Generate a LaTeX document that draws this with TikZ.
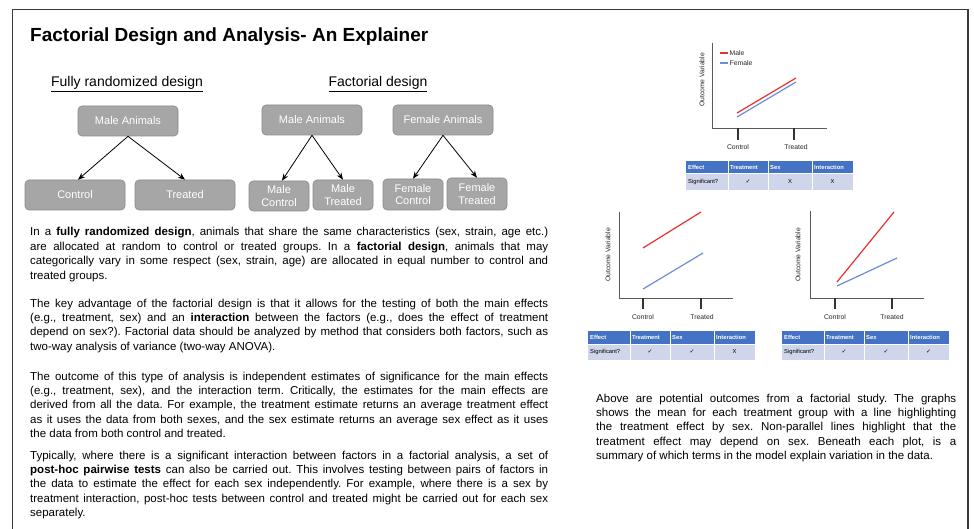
\documentclass[tikz,border=0pt]{standalone}
\usepackage{fontspec}
\setmainfont{Liberation Sans}
\newfontfamily\symfont{DejaVu Sans}
\usetikzlibrary{arrows.meta}
\frenchspacing

\definecolor{boxfill}{HTML}{A6A6A6}
\definecolor{boxline}{HTML}{8A8A8A}
\definecolor{hdrblue}{HTML}{4472C4}
\definecolor{rowblue}{HTML}{CFD5EA}
\definecolor{malered}{HTML}{E8302E}
\definecolor{femblue}{HTML}{6A8ED8}
\definecolor{framegray}{HTML}{3A3A3A}
\definecolor{axisgray}{HTML}{595959}

% one justified line of a fixed width
\newcommand\jl[2][518pt]{\makebox[#1][s]{#2}}

% summary table of significant terms: name, x, y, three results
\newcommand\restable[6]{%
  \begin{scope}[shift={(#2,#3)}]
    \fill[hdrblue] (0,0) rectangle (167,13);
    \fill[rowblue] (0,13) rectangle (167,29);
    \draw[white, line width=1pt] (42,0) -- (42,29) (82,0) -- (82,29)
      (126,0) -- (126,29) (0,13) -- (167,13);
    \node[hdr] (#1-h1) at (2,6.5) {Effect};
    \node[hdr] (#1-h2) at (44,6.5) {Treatment};
    \node[hdr] (#1-h3) at (84,6.5) {Sex};
    \node[hdr] (#1-h4) at (128,6.5) {Interaction};
    \node[rowtxt, anchor=west] (#1-r1) at (2,21) {Significant?};
    \node[rowtxt] (#1-r2) at (62,20.5) {#4};
    \node[rowtxt] (#1-r3) at (104,20.5) {#5};
    \node[rowtxt] (#1-r4) at (146.5,20.5) {#6};
  \end{scope}}
\newcommand\yes{{\symfont ✓}}

\begin{document}
\begin{tikzpicture}[x=1pt, y=-1pt,
  gbox/.style={draw=boxline, fill=boxfill, rounded corners=4pt, text=white,
    font=\fontsize{11}{12.5}\selectfont, align=center, inner sep=1pt,
    line width=0.6pt},
  flow/.style={-{Stealth[length=7pt,width=5.5pt]}, line width=0.8pt},
  % anchored at the baseline of the last line
  para/.style={anchor=base west, align=left, inner sep=0pt,
    font=\fontsize{11.5}{14.4}\selectfont},
  hdr/.style={anchor=west, text=white, inner sep=0pt,
    font=\fontsize{5.8}{7}\selectfont\bfseries},
  rowtxt/.style={inner sep=0pt, font=\fontsize{5.8}{7}\selectfont},
  axlbl/.style={inner sep=0pt, text=black!85, font=\fontsize{6.8}{8}\selectfont},
  axis/.style={axisgray, line width=0.9pt},
  tickmark/.style={black!80, line width=1.8pt},
  maleline/.style={malered, line width=1.2pt},
  femline/.style={femblue, line width=1.2pt}]

\useasboundingbox (0,0) rectangle (974,529);
\fill[white] (0,0) rectangle (974,529);

% page frame, open at the bottom
\draw[framegray, line width=1.5pt] (12.5,529) -- (12.5,9.5) -- (968,9.5) -- (968,529);

% title and headings
\node[anchor=base west, inner sep=0pt, font=\fontsize{19}{23}\selectfont\bfseries]
  (title) at (30,42) {Factorial Design and Analysis- An Explainer};
\node[anchor=base, inner sep=0pt, font=\fontsize{14}{16}\selectfont]
  (frhead) at (127,87) {\underline{Fully randomized design}};
\node[anchor=base, inner sep=0pt, font=\fontsize{14}{16}\selectfont]
  (fachead) at (378,87) {\underline{Factorial design}};

% fully randomized design
\node[gbox, minimum width=100pt, minimum height=30pt] (frm) at (128,121) {Male Animals};
\node[gbox, minimum width=100pt, minimum height=30pt] (frc) at (75,195) {Control};
\node[gbox, minimum width=100pt, minimum height=30pt] (frt) at (185,195) {Treated};
\draw[flow] (frm.south) -- ([xshift=3pt]frc.north);
\draw[flow] (frm.south) -- (frt.north);

% factorial design
\node[gbox, minimum width=100pt, minimum height=30pt] (fm) at (312,120) {Male Animals};
\node[gbox, minimum width=60pt, minimum height=30pt] (fmc) at (279,196) {Male\\Control};
\node[gbox, minimum width=60pt, minimum height=30pt] (fmt) at (343,195) {Male\\Treated};
\node[gbox, minimum width=100pt, minimum height=30pt] (ff) at (443,120) {Female Animals};
\node[gbox, minimum width=60pt, minimum height=31pt] (ffc) at (413,194.5) {Female\\Control};
\node[gbox, minimum width=60pt, minimum height=32pt] (fft) at (477,194) {Female\\Treated};
\draw[flow] (fm.south) -- ([xshift=3pt]fmc.north);
\draw[flow] (fm.south) -- (fmt.north);
\draw[flow] (ff.south) -- (ffc.north);
\draw[flow] (ff.south) -- (fft.north);

% explanatory text
\node[para] (p1) at (30,279.2) {%
\jl{In a \textbf{fully randomized design}, animals that share the same characteristics (sex, strain, age etc.)}\\
\jl{are allocated at random to control or treated groups. In a \textbf{factorial design}, animals that may}\\
\jl{categorically vary in some respect (sex, strain, age) are allocated in equal number to control and}\\
treated groups.};
\node[para] (p2) at (30,350.2) {%
\jl{The key advantage of the factorial design is that it allows for the testing of both the main effects}\\
\jl{(e.g., treatment, sex) and an \textbf{interaction} between the factors (e.g., does the effect of treatment}\\
\jl{depend on sex?). Factorial data should be analyzed by method that considers both factors, such as}\\
two-way analysis of variance (two-way ANOVA).};
\node[para] (p3) at (30,437.6) {%
\jl{The outcome of this type of analysis is independent estimates of significance for the main effects}\\
\jl{(e.g., treatment, sex), and the interaction term. Critically, the estimates for the main effects are}\\
\jl{derived from all the data. For example, the treatment estimate returns an average treatment effect}\\
\jl{as it uses the data from both sexes, and the sex estimate returns an average sex effect as it uses}\\
the data from both control and treated.};
\node[para] (p4) at (30,516.6) {%
\jl{Typically, where there is a significant interaction between factors in a factorial analysis, a set of}\\
\jl{\textbf{post-hoc pairwise tests} can also be carried out. This involves testing between pairs of factors in}\\
\jl{the data to estimate the effect for each sex independently. For example, where there is a sex by}\\
\jl{treatment interaction, post-hoc tests between control and treated might be carried out for each sex}\\
separately.};
\node[para] (p5) at (596,459.6) {%
\jl[360pt]{Above are potential outcomes from a factorial study. The graphs}\\
\jl[360pt]{shows the mean for each treatment group with a line highlighting}\\
\jl[360pt]{the treatment effect by sex. Non-parallel lines highlight that the}\\
\jl[360pt]{treatment effect may depend on sex. Beneath each plot, is a}\\
summary of which terms in the model explain variation in the data.};

% graph 1: treatment effect only
\draw[axis] (712,43) -- (712,128) -- (827,128);
\draw[tickmark] (738,128) -- (738,140) (794,128) -- (794,140);
\node[axlbl] (g1c) at (738,147) {Control};
\node[axlbl] (g1t) at (796,147) {Treated};
\node[axlbl, rotate=90] (g1y) at (702,80) {Outcome Variable};
\draw[maleline] (737,113) -- (796,78);
\draw[femline] (737,117) -- (796,82);
\draw[maleline] (720,53) -- (728,53);
\node[axlbl, anchor=west] (lgm) at (729.5,53) {Male};
\draw[femline] (720,63) -- (728,63);
\node[axlbl, anchor=west] (lgf) at (729.5,63) {Female};
\restable{t1}{686}{161}{\yes}{X}{X}

% graph 2: treatment and sex effects
\draw[axis] (619,212) -- (619,298) -- (733,298);
\draw[tickmark] (643,298) -- (643,309) (701,298) -- (701,309);
\node[axlbl] (g2c) at (643,317) {Control};
\node[axlbl] (g2t) at (702,317) {Treated};
\node[axlbl, rotate=90] (g2y) at (608,255) {Outcome Variable};
\draw[maleline] (643,248) -- (701,212);
\draw[femline] (643,289) -- (703,253);
\restable{t2}{588}{331}{\yes}{\yes}{X}

% graph 3: interaction
\draw[axis] (810,211) -- (810,298) -- (924,298);
\draw[tickmark] (835,298) -- (835,309) (892,298) -- (892,309);
\node[axlbl] (g3c) at (835,317) {Control};
\node[axlbl] (g3t) at (892,317) {Treated};
\node[axlbl, rotate=90] (g3y) at (798,255) {Outcome Variable};
\draw[maleline] (837,282) -- (894,212);
\draw[femline] (837,286) -- (897,258);
\restable{t3}{782}{331}{\yes}{\yes}{\yes}

\end{tikzpicture}
\end{document}
